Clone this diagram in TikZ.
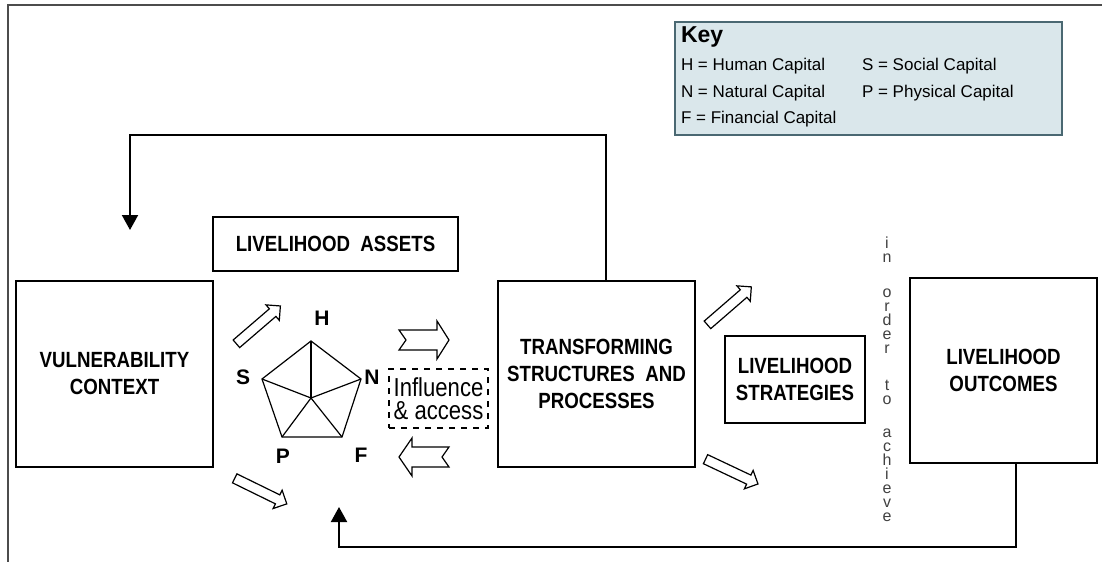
\documentclass[tikz,border=0pt]{standalone}
\usepackage{fontspec}
\setmainfont{Liberation Sans}
\newfontfamily\narrowfont[FakeStretch=0.85]{Liberation Sans}
\usetikzlibrary{shapes.arrows,arrows.meta}
\definecolor{keyfill}{RGB}{218,231,235}
\definecolor{keyline}{RGB}{74,104,114}

\begin{document}
\begin{tikzpicture}[x=0.5pt,y=-0.5pt,
  every node/.style={outer sep=0pt},
  box/.style={draw, line width=0.9pt, align=center, inner sep=0pt,
    font=\narrowfont\bfseries\fontsize{11}{13.5}\selectfont},
  keytext/.style={anchor=base west, inner sep=0pt, font=\fontsize{8.5}{10}\selectfont},
  capital/.style={font=\bfseries\fontsize{10.5}{12}\selectfont, inner sep=0pt},
  hollow/.style={single arrow, draw, line width=0.6pt, inner xsep=0pt, inner ysep=2.2pt,
    minimum height=29pt, single arrow head extend=2.6pt},
  notched/.style={draw, line width=0.6pt, line join=miter},
  penta/.style={line width=0.6pt},
  feed/.style={line width=1pt, -{Triangle[width=8pt,length=7.5pt]}},
  vert/.style={anchor=base, inner sep=0pt, text=black!75, font=\fontsize{8}{9}\selectfont}]
\useasboundingbox (0,0) rectangle (1102,562);

% frame
\draw[line width=1.2pt, black!70] (1102,5) -- (8,5) -- (8,562);

% key
\node[draw=keyline, fill=keyfill, line width=0.9pt, minimum width=193.5pt, minimum height=56.5pt] (key) at (868.5,78.5) {};
\node[keytext, font=\bfseries\fontsize{11.5}{13}\selectfont] (keyhead) at (681,42) {Key};
\node[keytext] (kh) at (681,70) {H = Human Capital};
\node[keytext] (kn) at (681,97) {N = Natural Capital};
\node[keytext] (kf) at (681,123) {F = Financial Capital};
\node[keytext] (ks) at (862,70) {S = Social Capital};
\node[keytext] (kp) at (862,97) {P = Physical Capital};

% boxes
\node[box, minimum width=98.5pt, minimum height=93pt] (vuln) at (114.5,374) {VULNERABILITY\\CONTEXT};
\node[box, minimum width=122.5pt, minimum height=27pt] (assets) at (335.5,244) {LIVELIHOOD\ \ ASSETS};
\node[box, minimum width=98.5pt, minimum height=93pt] (trans) at (596.5,374) {TRANSFORMING\\STRUCTURES\ \ AND\\PROCESSES};
\node[box, minimum width=70pt, minimum height=43.5pt] (strat) at (795,379.5) {LIVELIHOOD\\STRATEGIES};
\node[box, minimum width=93.5pt, minimum height=92.5pt] (outc) at (1003.5,370.5) {LIVELIHOOD\\OUTCOMES};
\node[draw, dashed, line width=0.6pt, minimum width=49.5pt, minimum height=29.5pt, align=center, inner sep=0pt,
  font=\narrowfont\fontsize{13}{11.5}\selectfont] (infl) at (438.5,398.5) {Influence\\\& access};

% asset pentagon
\coordinate (pc) at (311,398);
\coordinate (ph) at (311,341);
\coordinate (pn) at (361,379);
\coordinate (pf) at (342,437);
\coordinate (pp) at (282,437);
\coordinate (ps) at (262,379);
\draw[penta] (ph) -- (pn) -- (pf) -- (pp) -- (ps) -- cycle;
\foreach \v in {ph,pn,pf,pp,ps}
  \draw[penta] (pc) -- (\v);
\node[capital] (lh) at (322,318) {H};
\node[capital] (ln) at (372,377) {N};
\node[capital] (lf) at (361,455) {F};
\node[capital] (lp) at (283,456) {P};
\node[capital] (ls) at (243,377) {S};

% hollow arrows
\node[hollow, rotate=40.7] (a1) at (256.5,326.5) {};
\node[hollow, rotate=-26.1] (a2) at (258.5,490) {};
\node[hollow, rotate=40.9] (a3) at (727.5,307.5) {};
\node[hollow, rotate=-25.3] (a4) at (729.5,470.5) {};
\draw[notched] (399,330) -- (437,330) -- (437,321) -- (449,340) -- (437,359) -- (437,350) -- (399,350) -- (406,340) -- cycle;
\draw[notched] (399,457) -- (412,438) -- (412,447) -- (449,447) -- (442,457) -- (449,467) -- (412,467) -- (412,476) -- cycle;

% in order to achieve
\foreach \ch/\yy [count=\k] in {i/248,n/262,o/297,r/311,d/325,e/339,r/353,t/390,o/404,a/437,c/451,h/465,i/479,e/493,v/507,e/521}
  \node[vert] (txt\k) at (887,\yy) {\ch};

% feedback
\coordinate (topend) at (130,230);
\coordinate (botend) at (339,507);
\draw[feed] ([xshift=4.75pt]trans.north) -- ++(0,-146) -| (topend);
\draw[feed] ([xshift=6.25pt]outc.south) -- ++(0,84) -| (botend);
\end{tikzpicture}
\end{document}
